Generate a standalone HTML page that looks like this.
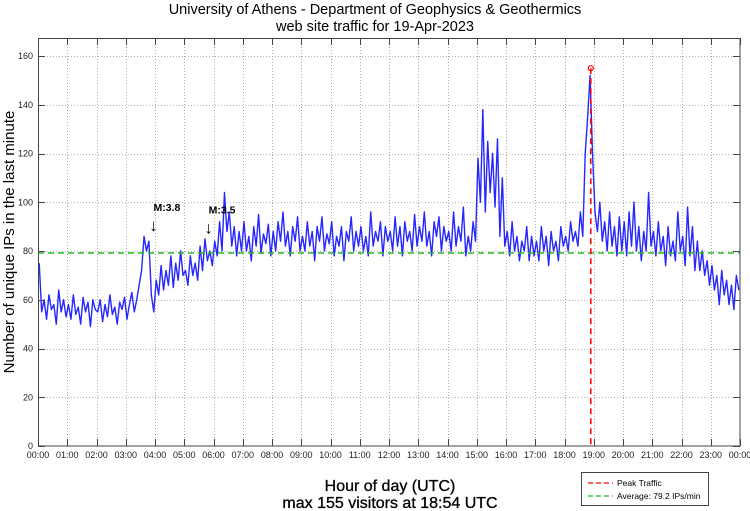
<!DOCTYPE html>
<html><head><meta charset="utf-8"><style>
html,body{margin:0;padding:0;background:#fff;}
svg{display:block;font-family:"Liberation Sans",sans-serif;}
</style></head><body>
<svg id="chart" width="750" height="511" viewBox="0 0 750 511">
<text x="375" y="14" text-anchor="middle" font-size="14.5">University of Athens - Department of Geophysics &amp; Geothermics</text>
<text x="375" y="31" text-anchor="middle" font-size="14.5">web site traffic for 19-Apr-2023</text>
<text transform="translate(14,242) rotate(-90)" text-anchor="middle" font-size="15">Number of unique IPs in the last minute</text>
<text x="390" y="491" text-anchor="middle" font-size="16" stroke="#000" stroke-width="0.3">Hour of day (UTC)</text>
<text x="390" y="508" text-anchor="middle" font-size="16" stroke="#000" stroke-width="0.3">max 155 visitors at 18:54 UTC</text>
<g id="grid"></g>
<g id="series"></g>
<g id="overlay"></g>
<rect x="38.5" y="38.5" width="701.5" height="407.5" fill="none" stroke="#444" stroke-width="1"/>
<g id="ticks"></g>
<g>
<rect x="581.5" y="472.5" width="127" height="33" fill="#fff" stroke="#444"/>
<line x1="588" y1="483" x2="613" y2="483" stroke="#ff0000" stroke-width="1.3" stroke-dasharray="5,3"/>
<text x="617" y="486" font-size="8.5">Peak Traffic</text>
<line x1="588" y1="496" x2="613" y2="496" stroke="#22bb22" stroke-width="1.3" stroke-dasharray="5,3"/>
<text x="617" y="499" font-size="8.5">Average: 79.2 IPs/min</text>
</g>
</svg>
<script>
const hourLabels=["00:00","01:00","02:00","03:00","04:00","05:00","06:00","07:00","08:00","09:00","10:00","11:00","12:00","13:00","14:00","15:00","16:00","17:00","18:00","19:00","20:00","21:00","22:00","23:00","00:00"];
const yTicks=[0,20,40,60,80,100,120,140,160];
const stepMinutes=5;
const visitors=[
75,55,60,52,62,56,58,50,64,55,60,53,
58,52,62,54,57,50,61,55,59,49,60,56,
55,60,51,58,53,62,54,57,50,59,56,61,
52,58,63,55,60,66,72,86,80,84,62,55,
68,62,74,64,72,66,78,65,75,68,80,70,
72,66,78,70,75,68,82,72,85,76,80,74,
84,78,92,80,104,88,96,82,90,78,88,80,
92,80,86,76,90,82,95,79,87,83,91,78,
88,80,92,84,96,82,88,78,90,84,94,80,
86,80,92,82,88,76,90,84,94,80,87,83,
92,78,86,82,90,76,88,84,94,80,88,82,
90,80,86,78,96,82,88,84,92,78,90,84,
88,80,94,82,90,78,92,84,88,80,95,82,
90,84,96,82,88,78,92,86,94,80,90,84,
88,80,96,82,90,84,98,78,86,80,92,84,
118,100,138,96,125,104,120,98,126,86,110,82,
88,78,92,80,86,76,84,80,90,76,86,78,
84,76,90,80,86,74,88,80,84,76,90,82,
86,80,92,84,88,82,96,86,120,135,152,120,
96,88,100,84,92,80,96,82,90,78,94,80,
92,78,96,82,100,80,90,76,88,80,104,82,
88,78,92,80,86,74,90,78,84,76,96,80,
86,74,98,78,90,72,84,72,80,70,76,66,
74,64,70,58,72,62,68,58,66,56,70,64];
const averageValue=79.2;
const peakValue=155;
const peakMinute=18*60+54;
const quakes=[{label:"M:3.8",minute:3*60+57,value:89},{label:"M:3.5",minute:5*60+50,value:88}];

const X0=38,X1=740,YTOP=38,YBOT=446;
const xs=m=>X0+(m/1440)*(X1-X0);
const ys=v=>56+(160-v)*(48.75/20);
const NS="http://www.w3.org/2000/svg";
function mk(tag,parent,attrs){const e=document.createElementNS(NS,tag);for(const k in attrs)e.setAttribute(k,attrs[k]);parent.appendChild(e);return e;}
const grid=document.getElementById('grid'),ticks=document.getElementById('ticks'),series=document.getElementById('series'),ov=document.getElementById('overlay');

hourLabels.forEach((lab,i)=>{
  const x=Math.round(xs(i*60))+0.5;
  if(i>0&&i<24){const g=mk('line',grid,{x1:x,y1:YTOP,x2:x,y2:YBOT,stroke:'#999','stroke-width':0.8,'stroke-dasharray':'1,2'});
  
  }
  const t1=mk('line',ticks,{x1:x,y1:YBOT,x2:x,y2:YBOT-7,stroke:'#444'});
  
  
  const t2=mk('line',ticks,{x1:x,y1:YTOP,x2:x,y2:YTOP+7,stroke:'#444'});
  
  
  const tx=mk('text',ticks,{x:xs(i*60),y:458,'text-anchor':'middle','font-size':'9',fill:'#222'});
  tx.textContent=lab;
  
  
});
yTicks.forEach(v=>{
  const y=Math.round(ys(v))+0.5;
  if(v>0){const g=mk('line',grid,{x1:X0,y1:y,x2:X1,y2:y,stroke:'#999','stroke-width':0.8,'stroke-dasharray':'1,2'});
  
  }
  const t1=mk('line',ticks,{x1:X0,y1:y,x2:X0+7,y2:y,stroke:'#444'});
  
  
  const t2=mk('line',ticks,{x1:X1,y1:y,x2:X1-7,y2:y,stroke:'#444'});
  
  
  const tx=mk('text',ticks,{x:33,y:ys(v)+3,'text-anchor':'end','font-size':'9',fill:'#222'});
  tx.textContent=v;
  
  
});

const pts=visitors.map((v,i)=>xs(i*stepMinutes+2.5).toFixed(2)+','+ys(v).toFixed(2)).join(' ');
const pl=mk('polyline',series,{points:pts,fill:'none',stroke:'#0000ff','stroke-width':1.4,'stroke-opacity':0.85,'stroke-linejoin':'round'});



const avg=mk('line',ov,{x1:X0,y1:ys(averageValue),x2:X1,y2:ys(averageValue),stroke:'#22bb22','stroke-width':1.5,'stroke-dasharray':'6,4'});


const pk=mk('line',ov,{x1:xs(peakMinute),y1:ys(peakValue),x2:xs(peakMinute),y2:YBOT,stroke:'#ff0000','stroke-width':1.5,'stroke-dasharray':'6,4'});


const pc=mk('circle',ov,{cx:xs(peakMinute),cy:ys(peakValue),r:2.5,fill:'none',stroke:'#ff0000','stroke-width':1.2});



quakes.forEach(q=>{
  const x=xs(q.minute),y=ys(q.value);
  const t=mk('text',ov,{x:x,y:y-18,'font-size':'10.5','font-weight':'bold',fill:'#000'});
  t.textContent=q.label;
  
  
  const a=mk('text',ov,{x:x,y:y+2,'text-anchor':'middle','font-size':'17',fill:'#000'});
  a.textContent='\u2193';
  
  
});
</script>
</body></html>
